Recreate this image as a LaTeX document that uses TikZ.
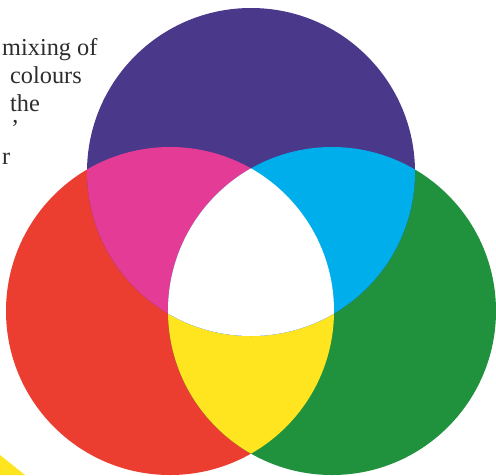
\documentclass[tikz,border=0pt]{standalone}
\usepackage{fontspec}
\setmainfont{Liberation Serif}
\definecolor{bluec}{RGB}{74,56,138}
\definecolor{redc}{RGB}{236,62,48}
\definecolor{greenc}{RGB}{32,146,62}
\definecolor{magc}{RGB}{228,60,150}
\definecolor{cyanc}{RGB}{0,174,236}
\definecolor{yelc}{RGB}{255,228,32}
\definecolor{inkc}{RGB}{45,45,45}
\begin{document}
\begin{tikzpicture}[x=1pt,y=-1pt,
  txt/.style={anchor=base west, inner sep=0pt, text=inkc, font=\fontsize{24.3}{28}\selectfont},
  rad/.style={radius=164}]
\useasboundingbox (0,0) rectangle (496,475);
\fill[white] (0,0) rectangle (496,475);
\begin{scope}
\clip (0,0) rectangle (496,475);
\coordinate (B) at (251,172);
\coordinate (R) at (170,311);
\coordinate (G) at (332,311);
% primary discs
\fill[redc] (R) circle[rad];
\fill[greenc] (G) circle[rad];
\fill[bluec] (B) circle[rad];
% red + green = yellow
\begin{scope}
  \clip (R) circle[rad];
  \fill[yelc] (G) circle[rad];
\end{scope}
% overlaps with blue
\begin{scope}
  \clip (B) circle[rad];
  \fill[magc] (R) circle[rad];
  \fill[cyanc] (G) circle[rad];
  \clip (R) circle[rad];
  \fill[white] (G) circle[rad];
\end{scope}
% yellow corner fragment
\fill[yelc] (0,455) -- (25,475) -- (0,475) -- cycle;
\end{scope}
% text fragments
\node[txt] (t1) at (2,55) {mixing of};
\node[txt] (t2) at (10,83) {colours};
\node[txt] (t3) at (10,111) {the};
\node[txt] (t4) at (11,136) {’};
\node[txt] (t5) at (2,164) {r};
\end{tikzpicture}
\end{document}
